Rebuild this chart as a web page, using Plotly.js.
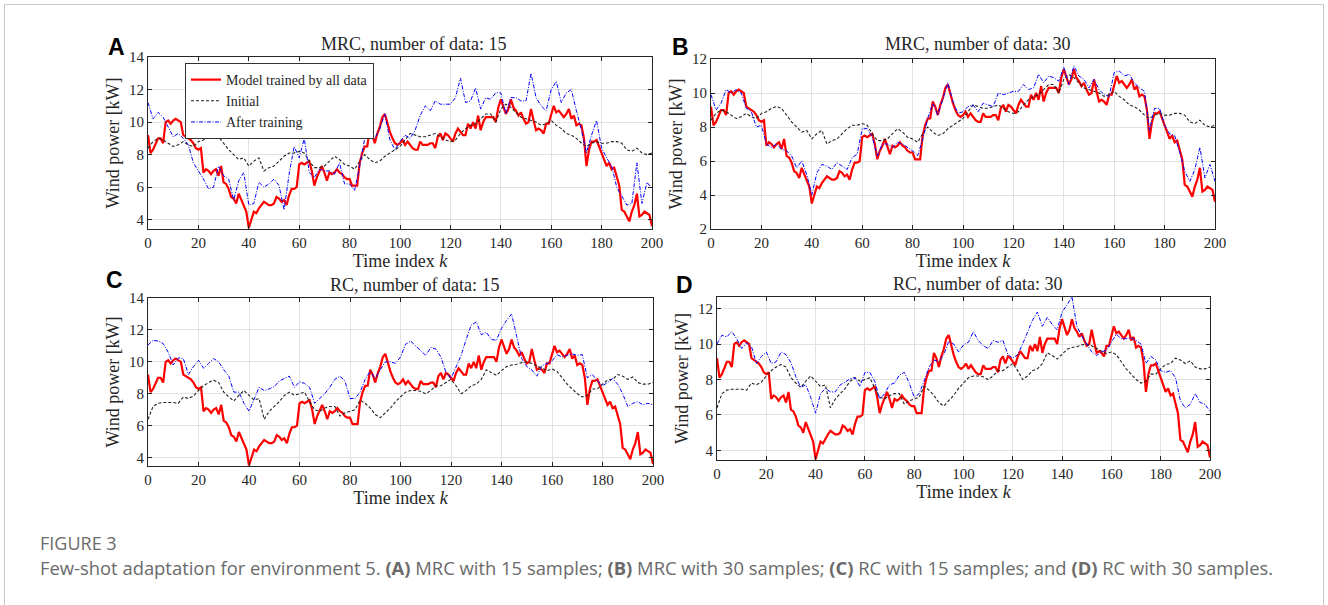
<!DOCTYPE html>
<html>
<head>
<meta charset="utf-8">
<script src="https://cdn.plot.ly/plotly-3.0.1.min.js"></script>
<style>
html,body{margin:0;padding:0;background:#fff;}
#chart{width:1328px;height:605px;}
</style>
</head>
<body>
<div id="chart"></div>
<script>
// ---- Data ----
// Time index k = 0..200 (step 1) for the reference model; step 2 for the others
const kFull = [];
for (let i = 0; i <= 200; i++) kFull.push(i);
const kHalf = [];
for (let i = 0; i <= 200; i += 2) kHalf.push(i);

// Model trained by all data (same in all panels), k = 0..200
const modelAllData = [
  9.2, 8.1, 8.3, 8.7, 9.0, 9.0, 8.7, 10.0, 10.1, 9.9,
  10.1, 10.2, 10.1, 10.0, 9.2, 9.1, 9.0, 8.9, 8.7, 8.4,
  8.3, 8.4, 6.9, 7.1, 7.0, 6.8, 7.0, 7.1, 6.7, 7.3,
  6.3, 6.2, 5.9, 5.4, 5.3, 5.0, 5.6, 5.2, 4.9, 4.5,
  3.5, 4.0, 4.5, 4.4, 4.7, 4.9, 5.1, 5.0, 4.9, 4.9,
  5.0, 5.4, 5.3, 5.1, 5.2, 4.9, 5.5, 5.9, 5.9, 6.0,
  7.4, 7.5, 7.4, 7.5, 7.6, 7.0, 6.1, 6.6, 6.9, 7.3,
  6.9, 6.4, 6.9, 6.8, 6.9, 7.1, 6.9, 6.8, 6.6, 6.5,
  6.5, 6.1, 6.1, 6.1, 7.5, 8.1, 8.5, 8.5, 9.5, 9.2,
  8.7, 9.3, 9.7, 10.3, 10.5, 9.9, 9.4, 9.0, 8.7, 8.6,
  8.7, 8.9, 8.6, 8.8, 8.6, 8.4, 8.3, 8.3, 8.8, 8.6,
  8.6, 8.6, 8.7, 8.7, 8.4, 9.1, 9.3, 8.9, 9.3, 9.2,
  9.0, 8.8, 9.3, 9.6, 9.4, 9.2, 9.2, 9.9, 9.6, 10.0,
  9.6, 10.4, 9.5, 10.0, 10.3, 10.3, 10.3, 10.3, 10.0, 10.9,
  11.4, 10.9, 10.5, 10.8, 11.4, 10.9, 10.7, 10.4, 10.6, 10.2,
  9.9, 10.0, 10.8, 10.1, 9.5, 9.6, 9.5, 9.3, 9.9, 9.9,
  10.4, 11.0, 10.6, 10.7, 10.5, 10.3, 10.5, 10.8, 10.2, 10.4,
  9.8, 9.9, 9.8, 9.0, 7.3, 8.3, 8.8, 8.8, 8.9, 8.5,
  8.0, 7.6, 7.3, 7.5, 7.1, 7.2, 6.6, 6.1, 4.6, 4.5,
  4.2, 3.9, 4.5, 4.9, 5.6, 4.2, 4.3, 4.5, 4.4, 4.3,
  3.6
];

// Initial model, MRC (panels A and B), k = 0,2,...,200
const initialMRC = [
  8.4, 8.8, 9.0, 8.9, 8.7, 8.5, 8.6, 8.8, 8.6, 8.5,
  8.8, 8.9, 9.1, 9.2, 9.1, 8.7, 8.3, 8.0, 7.7, 7.8,
  7.3, 7.6, 7.8, 7.0, 7.2, 7.3, 7.6, 7.9, 8.1, 8.1,
  8.2, 8.1, 7.6, 7.2, 7.2, 7.3, 7.6, 7.9, 7.7, 7.4,
  7.3, 7.1, 7.6, 8.0, 7.7, 7.5, 7.6, 7.9, 8.1, 8.3,
  8.5, 8.9, 9.3, 9.2, 9.1, 9.1, 9.2, 9.3, 9.1, 8.9,
  8.8, 8.9, 9.3, 9.6, 9.8, 9.9, 10.2, 10.5, 10.5, 10.0,
  10.8, 11.1, 10.9, 10.6, 10.3, 10.2, 10.1, 10.0, 9.8, 9.9,
  10.1, 9.8, 9.6, 9.3, 9.2, 9.0, 8.7, 8.5, 8.7, 8.8,
  8.7, 8.7, 8.8, 8.8, 8.7, 8.3, 8.2, 8.4, 8.1, 8.0,
  8.1
];

// After training, MRC with 15 samples (panel A)
const afterMRC15 = [
  11.2, 10.2, 10.6, 10.3, 9.7, 9.1, 9.3, 9.0, 8.6, 7.5,
  7.0, 6.5, 5.9, 6.0, 7.3, 6.7, 6.5, 5.2, 6.4, 6.9,
  4.9, 5.0, 6.3, 6.0, 6.2, 6.5, 6.1, 4.6, 6.8, 8.5,
  7.8, 9.0, 6.9, 6.6, 7.1, 7.0, 7.0, 6.8, 7.5, 6.2,
  6.2, 5.8, 7.3, 9.0, 9.4, 9.0, 9.6, 10.5, 8.9, 8.3,
  8.8, 9.2, 9.0, 9.5, 10.4, 11.0, 10.7, 11.3, 11.1, 11.1,
  11.1, 11.5, 12.7, 11.2, 11.3, 12.1, 10.8, 11.5, 11.4, 11.8,
  11.8, 10.5, 11.5, 11.5, 11.3, 11.3, 13.0, 11.5, 11.0, 10.7,
  12.0, 12.5, 11.2, 11.8, 12.0, 10.7, 9.5, 8.1, 9.2, 10.1,
  8.4, 7.8, 7.3, 6.0, 5.4, 4.9, 5.0, 7.5, 5.0, 6.3,
  5.9
];

// After training, MRC with 30 samples (panel B)
const afterMRC30 = [
  9.9, 9.0, 9.4, 10.2, 10.0, 10.2, 10.0, 9.1, 8.9, 8.0,
  8.1, 7.0, 6.8, 7.0, 6.7, 6.6, 6.3, 5.6, 6.0, 5.2,
  4.0, 5.3, 5.8, 5.7, 5.5, 5.9, 5.7, 5.5, 6.2, 6.4,
  7.9, 7.9, 7.4, 6.3, 7.0, 7.0, 6.8, 7.1, 7.0, 6.8,
  6.6, 6.3, 7.3, 8.5, 9.4, 8.7, 9.7, 10.6, 9.5, 8.8,
  8.9, 9.2, 9.3, 8.9, 9.4, 9.3, 9.2, 10.0, 9.9, 10.0,
  10.1, 10.1, 10.5, 10.2, 10.3, 11.1, 10.6, 11.0, 10.9, 10.7,
  11.5, 10.5, 11.6, 11.0, 10.8, 10.3, 10.8, 10.2, 9.9, 9.8,
  11.2, 11.3, 11.0, 11.1, 10.6, 10.3, 10.1, 7.8, 9.1, 9.1,
  8.1, 7.6, 7.5, 6.5, 5.4, 4.8, 5.5, 6.8, 5.0, 5.8,
  4.8
];

// Initial model, RC (panels C and D)
const initialRC = [
  6.4, 7.2, 7.4, 7.45, 7.45, 7.45, 7.4, 7.8, 7.7, 7.85,
  8.2, 8.5, 8.7, 8.85, 8.7, 8.1, 7.8, 7.55, 7.9, 8.2,
  7.9, 7.6, 7.7, 6.4, 6.9, 7.2, 7.5, 7.9, 8.1, 7.9,
  8.0, 8.1, 7.5, 7.0, 6.9, 7.1, 7.2, 7.2, 6.6, 6.8,
  6.9, 7.0, 7.6, 7.4, 7.1, 6.7, 6.5, 6.8, 7.1, 7.5,
  7.8, 8.1, 8.2, 8.2, 8.15, 8.0, 8.2, 8.5, 8.5, 8.7,
  8.9, 8.5, 8.0, 8.2, 8.5, 8.6, 8.9, 9.5, 9.35, 9.15,
  9.45, 9.7, 9.8, 9.85, 9.95, 10.0, 9.9, 9.75, 9.6, 9.45,
  9.55, 9.4, 9.0, 8.6, 8.3, 8.0, 7.8, 7.9, 8.3, 8.3,
  8.6, 8.85, 8.9, 9.2, 9.1, 8.9, 9.05, 8.7, 8.6, 8.6,
  8.7
];

// After training, RC with 15 samples (panel C)
const afterRC15 = [
  11.05, 11.35, 11.3, 11.15, 10.6, 9.8, 10.25, 10.2, 9.2, 9.7,
  10.1, 9.6, 9.9, 10.2, 10.0, 9.5, 9.1, 8.1, 8.1, 7.4,
  6.9, 7.7, 8.4, 8.2, 8.3, 8.45, 8.8, 8.95, 9.1, 8.4,
  8.75, 8.65, 8.4, 7.4, 7.7, 8.0, 8.4, 8.9, 9.1, 8.8,
  7.7, 7.7, 8.1, 8.9, 9.4, 8.95, 9.5, 10.0, 10.0, 9.9,
  10.3, 11.1, 11.3, 11.0, 10.75, 10.4, 10.9, 10.8, 10.3, 9.35,
  8.95, 9.7, 10.4, 11.4, 12.3, 12.5, 11.7, 11.85, 11.4, 11.35,
  12.1, 12.6, 13.0, 11.6, 10.2, 9.7, 9.5, 9.1, 9.75, 9.9,
  10.05, 10.45, 10.3, 10.4, 10.5, 10.4, 10.45, 9.0, 9.2, 8.8,
  8.5, 8.7, 8.95, 8.6, 8.0, 7.2, 7.4, 7.5, 7.3, 7.4,
  7.3
];

// After training, RC with 30 samples (panel D)
const afterRC30 = [
  10.0, 10.5, 10.4, 10.7, 10.3, 9.75, 10.05, 9.85, 8.9, 9.3,
  9.55, 8.9, 9.0, 9.55, 9.4, 8.95, 8.15, 7.55, 7.7, 7.0,
  6.1, 7.2, 7.5, 7.3, 7.3, 7.7, 7.85, 8.05, 8.1, 7.6,
  8.4, 8.4, 7.9, 6.9, 7.2, 7.7, 7.8, 8.25, 8.4, 7.8,
  7.0, 7.2, 7.9, 8.7, 9.1, 9.0, 9.4, 10.15, 10.0, 9.55,
  9.95, 10.1, 10.7, 10.2, 9.9, 9.75, 10.2, 10.1, 10.2, 9.4,
  9.2, 9.4, 10.0, 10.7, 11.35, 11.8, 11.0, 11.5, 11.1, 10.8,
  11.8, 12.2, 12.65, 11.0, 10.45, 10.0, 9.55, 9.35, 9.55, 9.65,
  10.1, 10.55, 10.3, 10.3, 10.35, 10.2, 10.0, 8.9, 9.3, 9.1,
  8.5, 8.4, 8.5, 8.1, 6.8, 6.4, 6.6, 7.2, 6.7, 6.6,
  6.2
];

const seriesNames = ['Model trained by all data', 'Initial', 'After training'];
const panelTitles = ['MRC, number of data: 15', 'MRC, number of data: 30',
                     'RC, number of data: 15', 'RC, number of data: 30'];
const panelLetters = ['A', 'B', 'C', 'D'];
const xTitle = 'Time index <i>k</i>';
const yTitle = 'Wind power [kW]';

// ---- Figure ----
const W = 1328, H = 605;
const px = v => v / W;
const py = v => 1 - v / H;

const redLine = {color: '#ff0000', width: 2.2};
const blackLine = {color: '#222222', width: 1.1, dash: '3px,2px'};
const blueLine = {color: '#0000ff', width: 1, dash: '4px,1.5px,1px,1.5px'};

const panels = [
  {ax: '', initial: initialMRC, after: afterMRC15},
  {ax: '2', initial: initialMRC, after: afterMRC30},
  {ax: '3', initial: initialRC, after: afterRC15},
  {ax: '4', initial: initialRC, after: afterRC30}
];

const traces = [];
panels.forEach((p, i) => {
  const xa = 'x' + p.ax, ya = 'y' + p.ax;
  traces.push({x: kFull, y: modelAllData, xaxis: xa, yaxis: ya, mode: 'lines',
    name: seriesNames[0], line: redLine, showlegend: i === 0});
  traces.push({x: kHalf, y: p.initial, xaxis: xa, yaxis: ya, mode: 'lines',
    name: seriesNames[1], line: blackLine, showlegend: i === 0});
  traces.push({x: kHalf, y: p.after, xaxis: xa, yaxis: ya, mode: 'lines',
    name: seriesNames[2], line: blueLine, showlegend: i === 0});
});

const tickFont = {family: 'Liberation Serif, Times New Roman, serif', size: 15, color: '#262626'};
const titleFont = {family: 'Liberation Serif, Times New Roman, serif', size: 18, color: '#262626'};

function xAxis(domain, anchor) {
  return {
    domain: domain, anchor: anchor, range: [0, 200], dtick: 20, tick0: 0,
    showgrid: true, gridcolor: '#e2e2e2', gridwidth: 1, zeroline: false,
    showline: true, linecolor: '#262626', linewidth: 1, mirror: 'ticks',
    ticks: 'inside', ticklen: 4, tickcolor: '#262626',
    tickfont: tickFont,
    title: {text: xTitle, font: titleFont, standoff: 1}
  };
}
function yAxis(domain, anchor, range, dtick) {
  return {
    domain: domain, anchor: anchor, range: range, dtick: dtick, tick0: 0,
    showgrid: true, gridcolor: '#e2e2e2', gridwidth: 1, zeroline: false,
    showline: true, linecolor: '#262626', linewidth: 1, mirror: 'ticks',
    ticks: 'inside', ticklen: 4, tickcolor: '#262626',
    tickfont: tickFont,
    title: {text: yTitle, font: titleFont, standoff: 4}
  };
}

const annotations = [];
const titlePos = [[413, 44], [977, 44], [414, 285], [977, 284]];
const letterPos = [[116, 47], [680, 47], [115, 280], [684, 285]];
panelTitles.forEach((t, i) => {
  annotations.push({text: t, xref: 'paper', yref: 'paper', x: px(titlePos[i][0]), y: py(titlePos[i][1]),
    xanchor: 'center', yanchor: 'middle', showarrow: false, font: titleFont});
  annotations.push({text: '<b>' + panelLetters[i] + '</b>', xref: 'paper', yref: 'paper',
    x: px(letterPos[i][0]), y: py(letterPos[i][1]), xanchor: 'center', yanchor: 'middle',
    showarrow: false, font: {family: 'Liberation Sans, Arial, sans-serif', size: 23, color: '#000'}});
});
annotations.push({text: 'FIGURE 3', xref: 'paper', yref: 'paper', x: px(38), y: py(543),
  xanchor: 'left', yanchor: 'middle', showarrow: false,
  font: {family: 'Open Sans, sans-serif', size: 18, color: '#6a6a6a'}});
annotations.push({text: 'Few-shot adaptation for environment 5. <b>(A)</b> MRC with 15 samples; <b>(B)</b> MRC with 30 samples; <b>(C)</b> RC with 15 samples; and <b>(D)</b> RC with 30 samples.',
  xref: 'paper', yref: 'paper', x: px(38), y: py(567), xanchor: 'left', yanchor: 'middle', showarrow: false,
  font: {family: 'Open Sans, sans-serif', size: 18.4, color: '#6a6a6a'}});

const layout = {
  width: W, height: H,
  margin: {l: 0, r: 0, t: 0, b: 0},
  paper_bgcolor: '#ffffff', plot_bgcolor: '#ffffff',
  showlegend: true,
  legend: {
    x: px(185), y: py(63), xanchor: 'left', yanchor: 'top',
    bgcolor: '#ffffff', bordercolor: '#333333', borderwidth: 1,
    font: {family: 'Liberation Serif, Times New Roman, serif', size: 14, color: '#262626'},
    tracegroupgap: 0, itemwidth: 30
  },
  xaxis: xAxis([px(148), px(652)], 'y'),
  yaxis: yAxis([py(229), py(57)], 'x', [3.43, 14], 2),
  xaxis2: xAxis([px(711), px(1215)], 'y2'),
  yaxis2: yAxis([py(229), py(59)], 'x2', [2, 12], 2),
  xaxis3: xAxis([px(148), px(653)], 'y3'),
  yaxis3: yAxis([py(466), py(298)], 'x3', [3.47, 14], 2),
  xaxis4: xAxis([px(717), px(1210)], 'y4'),
  yaxis4: yAxis([py(460), py(297)], 'x4', [3.46, 12.65], 2),
  annotations: annotations,
  shapes: [{type: 'rect', xref: 'paper', yref: 'paper', x0: px(4.5), x1: px(1323.5), y0: -0.1, y1: py(4.5),
    line: {color: '#c8c8c8', width: 1}, fillcolor: 'rgba(0,0,0,0)', layer: 'below'}]
};

Plotly.newPlot('chart', traces, layout, {staticPlot: true, displayModeBar: false});
</script>
</body>
</html>
